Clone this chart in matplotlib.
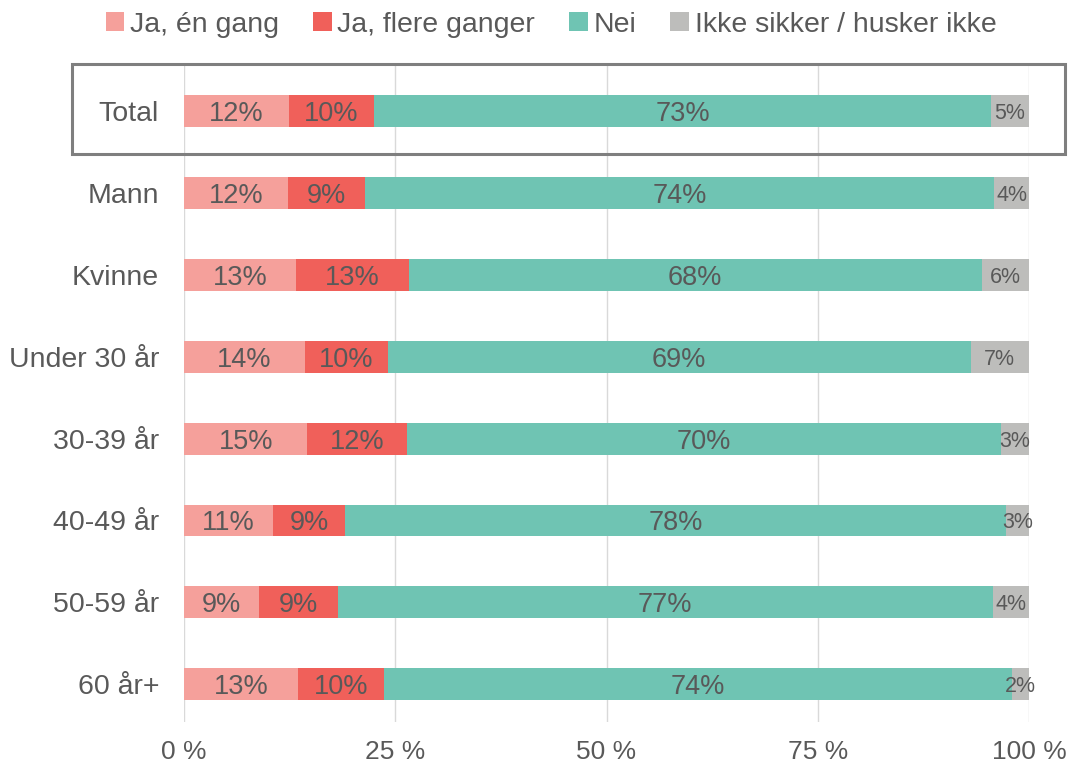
import numpy as np
import matplotlib.pyplot as plt
from matplotlib.patches import Rectangle

plt.rcParams["font.family"] = ["Liberation Sans", "DejaVu Sans"]

# ---------- Daten ----------
groups = ["Total", "Mann", "Kvinne", "Under 30 år", "30-39 år", "40-49 år", "50-59 år", "60 år+"]
series = ["Ja, én gang", "Ja, flere ganger", "Nei", "Ikke sikker / husker ikke"]

ja_en = np.array([12.4, 12.3, 13.3, 14.3, 14.6, 10.5, 8.9, 13.5])
ja_flere = np.array([10.1, 9.1, 13.3, 9.8, 11.8, 8.6, 9.3, 10.2])
nei = np.array([73.0, 74.5, 67.8, 69.0, 70.3, 78.2, 77.5, 74.3])
usikker = np.array([4.5, 4.1, 5.6, 6.9, 3.3, 2.7, 4.3, 2.0])

lab_en = ["12%", "12%", "13%", "14%", "15%", "11%", "9%", "13%"]
lab_flere = ["10%", "9%", "13%", "10%", "12%", "9%", "9%", "10%"]
lab_nei = ["73%", "74%", "68%", "69%", "70%", "78%", "77%", "74%"]
lab_usikker = ["5%", "4%", "6%", "7%", "3%", "3%", "4%", "2%"]

colors = ["#F5A09B", "#F0605A", "#6FC4B3", "#BDBDBB"]
txt = "#595959"

# ---------- Plot ----------
fig = plt.figure(figsize=(10.7, 7.7), dpi=100)
ax = fig.add_axes([0.172, 0.0623, 0.7897, 0.8533])

y = np.arange(len(groups))
values = [ja_en, ja_flere, nei, usikker]
labels = [lab_en, lab_flere, lab_nei, lab_usikker]

left = np.zeros(len(groups))
for k in range(4):
    ax.barh(y, values[k], left=left, height=0.39, color=colors[k], label=series[k], zorder=2)
    for i in range(len(groups)):
        fs = 15.5 if k == 3 else 19.5
        ax.text(left[i] + values[k][i] / 2, y[i], labels[k][i],
                ha="center", va="center_baseline", fontsize=fs, color=txt, zorder=3)
    left = left + values[k]

ax.set_xlim(0, 100)
ax.set_ylim(7.46, -0.56)
ax.set_yticks(y)
ax.set_yticklabels(groups)
ax.set_xticks([0, 25, 50, 75, 100])
ax.set_xticklabels(["0 %", "25 %", "50 %", "75 %", "100 %"])
ax.tick_params(axis="y", length=0, pad=18, labelsize=20.5, labelcolor=txt)
ax.tick_params(axis="x", length=0, pad=13, labelsize=19, labelcolor=txt)
ax.grid(axis="x", color="#D9D9D9", linewidth=1, zorder=0)
for s in ax.spines.values():
    s.set_visible(False)

# Rahmen um Total
fig.patches.append(Rectangle((72 / 1070, 1 - 154 / 770), (1065 - 72) / 1070, 90 / 770,
                             transform=fig.transFigure, fill=False,
                             edgecolor="#7F7F7F", linewidth=2.2))

fig.legend(loc="upper center", bbox_to_anchor=(0.515, 1.018), ncol=4, frameon=False,
           fontsize=20.5, handlelength=0.65, handleheight=0.65, handletextpad=0.2,
           columnspacing=1.2, labelcolor=txt)

fig.savefig("out.png", dpi=100)
